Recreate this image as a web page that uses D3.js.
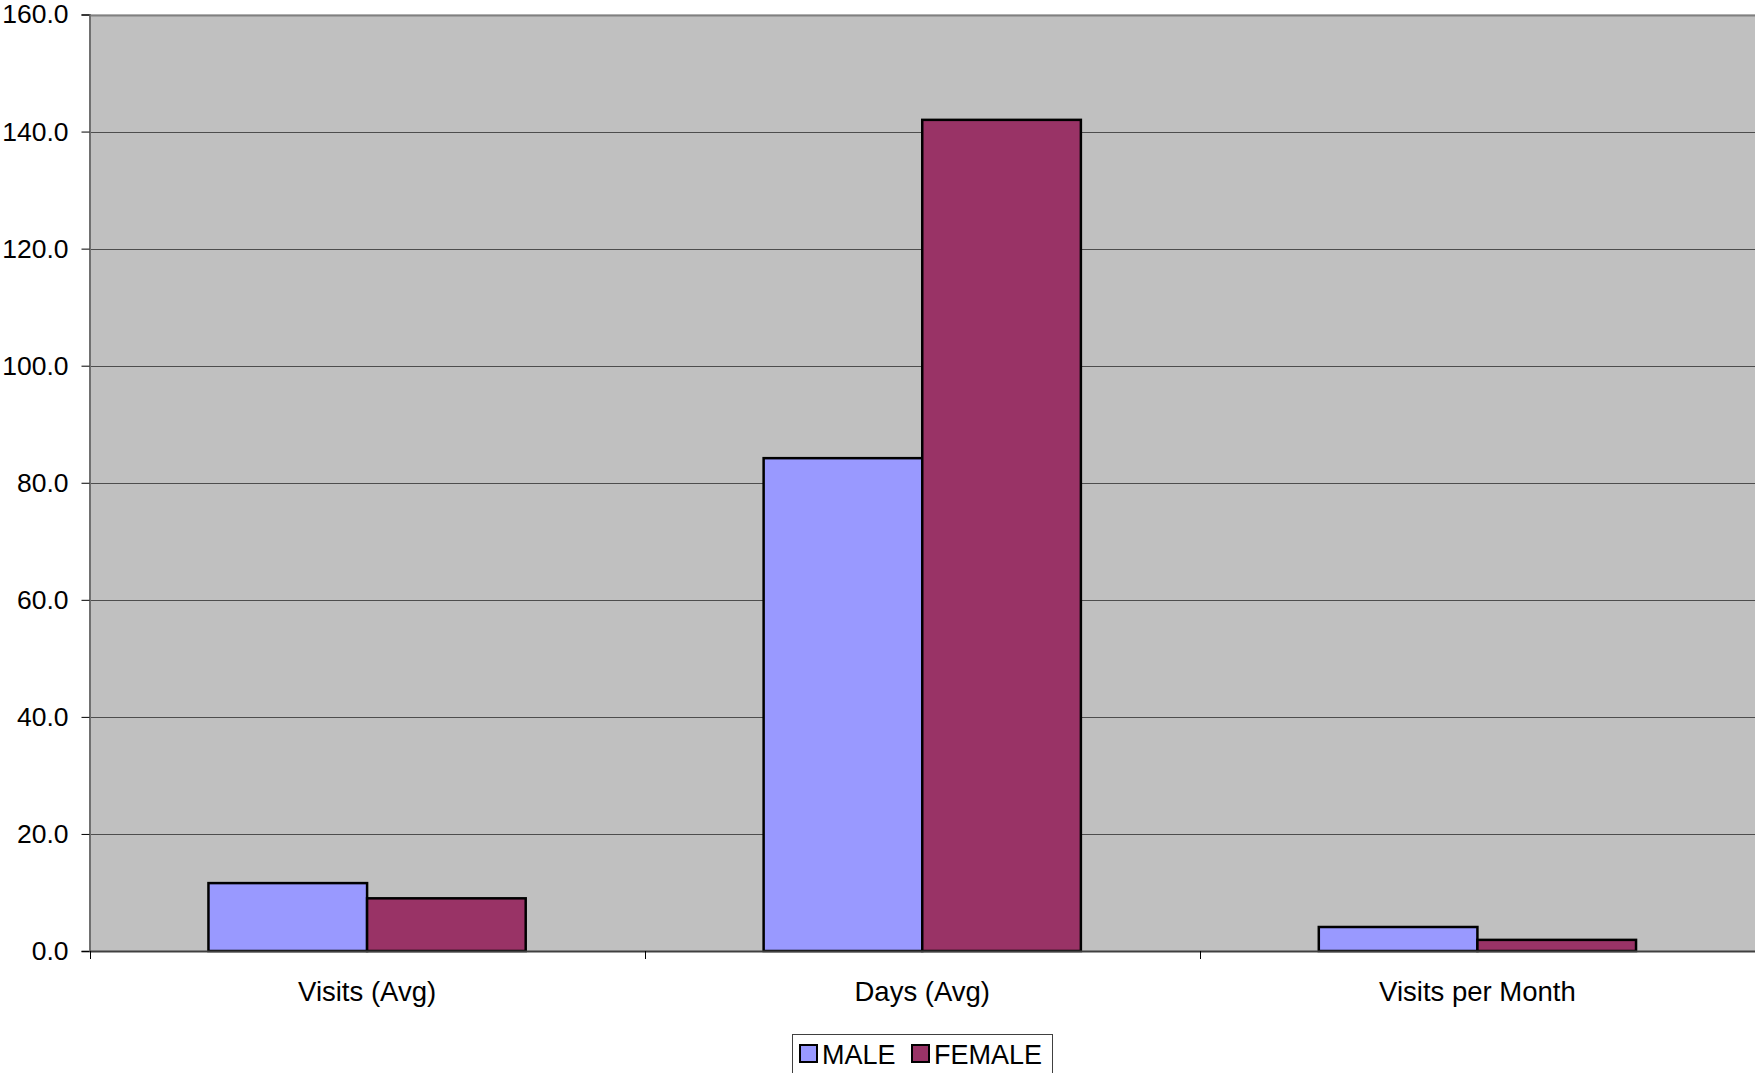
<!DOCTYPE html>
<html><head><meta charset="utf-8">
<script src="https://cdn.jsdelivr.net/npm/d3@7"></script>
<style>body{margin:0;background:#fff}svg{display:block}text{font-family:"Liberation Sans",Arial,sans-serif}</style>
</head><body>
<script>
const categories = ["Visits (Avg)", "Days (Avg)", "Visits per Month"];
const seriesNames = ["MALE", "FEMALE"];
const maleValues = [11.6, 84.2, 4.1];
const femaleValues = [9.0, 142.0, 1.9];
const yTicks = [0, 20, 40, 60, 80, 100, 120, 140, 160];
const colors = ["#9999FF", "#993366"];

const W = 1755, H = 1073;
const m = {left: 89.5, right: 0, top: 14.5, bottom: 122};
const svg = d3.select("body").append("svg").attr("width", W).attr("height", H);

const x = d3.scaleBand().domain(categories).range([m.left, W]).paddingInner(0).paddingOuter(0);
const y = d3.scaleLinear().domain([0, 160]).range([951, m.top]);
const bw = x.bandwidth() / 3.5;
const xs = d3.scaleBand().domain(seriesNames).range([0, 2 * bw]);

svg.append("rect").attr("x", m.left).attr("y", m.top).attr("width", W - m.left).attr("height", y(0) - m.top).attr("fill", "#C0C0C0");

// gridlines
svg.append("g").selectAll("line").data(yTicks.filter(d => d > 0)).join("line")
  .attr("x1", m.left).attr("x2", W).attr("y1", d => Math.round(y(d)) + 0.5).attr("y2", d => Math.round(y(d)) + 0.5)
  .attr("stroke", d => d === 160 ? "#808080" : "#4d4d4d").attr("stroke-width", d => d === 160 ? 2 : 1);

// bars
const data = categories.map((c, i) => ({c, vals: [maleValues[i], femaleValues[i]]}));
const g = svg.append("g").selectAll("g").data(data).join("g")
  .attr("transform", d => `translate(${x(d.c) + (x.bandwidth() - 2 * bw) / 2},0)`);
g.selectAll("rect").data(d => d.vals.map((v, j) => ({v, s: seriesNames[j], j}))).join("rect")
  .attr("x", d => xs(d.s)).attr("width", xs.bandwidth())
  .attr("y", d => y(d.v)).attr("height", d => y(0) - y(d.v))
  .attr("fill", d => colors[d.j]).attr("stroke", "#000").attr("stroke-width", 2.5);

// y axis
const yAxis = d3.axisLeft(y).tickValues(yTicks).tickFormat(d3.format(".1f")).tickSize(8).tickPadding(13);
const ya = svg.append("g").attr("transform", `translate(${m.left},0)`).call(yAxis);
ya.select(".domain").attr("stroke", "#707070").attr("stroke-width", 2);
ya.selectAll(".tick line").attr("stroke", "#000");
ya.selectAll(".tick text").attr("font-size", 26.5).attr("fill", "#000").attr("font-family", '"Liberation Sans",Arial,sans-serif');

// x axis
const xa = svg.append("g").attr("transform", `translate(0,${y(0)})`).call(d3.axisBottom(x).tickSize(0).tickPadding(30));
xa.select(".domain").attr("stroke", "#404040").attr("stroke-width", 2);
xa.selectAll(".tick text").attr("font-size", 27.5).attr("fill", "#000").attr("font-family", '"Liberation Sans",Arial,sans-serif');
const bounds = [m.left].concat(categories.map(c => x(c) + x.bandwidth()));
svg.append("g").selectAll("line").data(bounds).join("line")
  .attr("x1", d => Math.round(d) + 0.5).attr("x2", d => Math.round(d) + 0.5).attr("y1", y(0)).attr("y2", y(0) + 8)
  .attr("stroke", "#000");

// legend
const lg = svg.append("g");
lg.append("rect").attr("x", 792.5).attr("y", 1034.5).attr("width", 260).attr("height", 50).attr("fill", "#fff").attr("stroke", "#404040").attr("stroke-width", 1);
const legX = [800, 912];
seriesNames.forEach((s, i) => {
  lg.append("rect").attr("x", legX[i]).attr("y", 1045).attr("width", 17).attr("height", 17).attr("fill", colors[i]).attr("stroke", "#000").attr("stroke-width", 2);
  lg.append("text").attr("x", legX[i] + 22).attr("y", 1063.5).attr("font-size", 27).attr("fill", "#000").text(s);
});
</script>
</body></html>
